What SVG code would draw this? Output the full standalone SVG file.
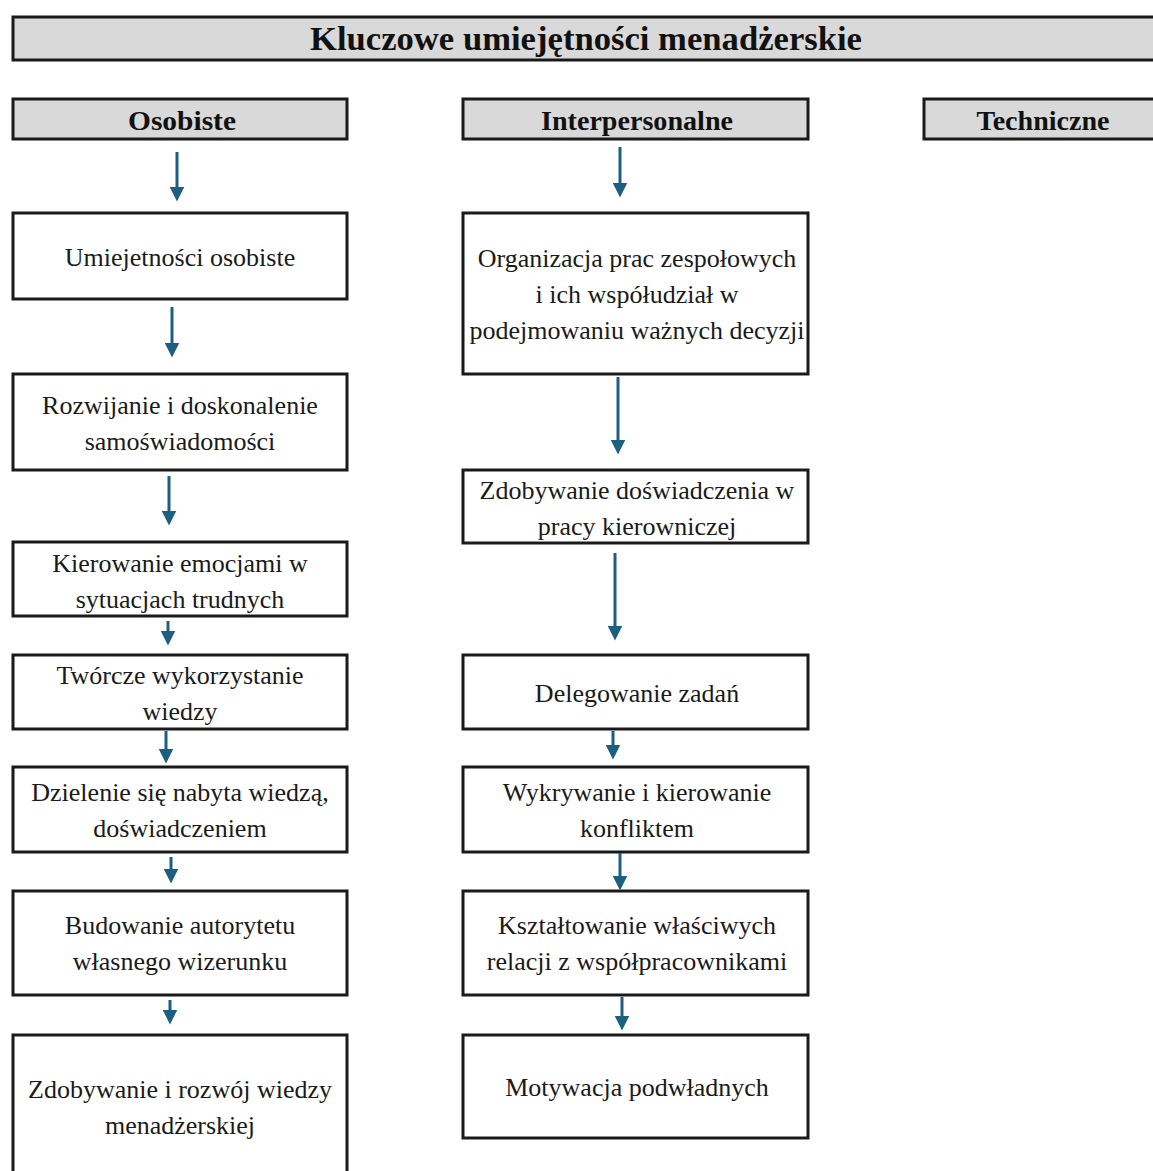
<svg xmlns="http://www.w3.org/2000/svg" width="1153" height="1171" viewBox="0 0 1153 1171">
  <style>
    .hdr { fill: #d9d9d9; stroke: #1a1a1a; stroke-width: 3; }
    .box { fill: #ffffff; stroke: #1a1a1a; stroke-width: 3; }
    .ttl { font-family: 'Liberation Serif', 'DejaVu Serif', serif; font-weight: bold; fill: #111; text-anchor: middle; }
    .txt { font-family: 'Liberation Serif', 'DejaVu Serif', serif; font-size: 26px; fill: #1a1a1a; text-anchor: middle; }
    .arr { stroke: #1d5f80; stroke-width: 3; fill: none; marker-end: url(#head); }
  </style>
  <defs>
    <marker id="head" markerWidth="5" markerHeight="5" refX="0.5" refY="2.5" orient="auto" markerUnits="strokeWidth" viewBox="0 0 5 5">
      <path d="M0,0 L5,2.5 L0,5 z" fill="#1d5f80"/>
    </marker>
  </defs>
  <rect width="1153" height="1171" fill="#ffffff"/>

  <!-- top banner -->
  <g id="n-root">
    <rect class="hdr" x="13" y="17" width="1150" height="43"/>
    <text class="ttl" x="586" y="50" font-size="33" textLength="552" lengthAdjust="spacingAndGlyphs">Kluczowe umiejętności menadżerskie</text>
  </g>

  <!-- category headers -->
  <g id="n-osobiste">
    <rect class="hdr" x="13" y="99" width="334" height="40"/>
    <text class="ttl" x="182" y="130" font-size="28" textLength="108" lengthAdjust="spacingAndGlyphs">Osobiste</text>
  </g>
  <g id="n-interpersonalne">
    <rect class="hdr" x="463" y="99" width="345" height="40"/>
    <text class="ttl" x="637" y="130" font-size="28" textLength="192" lengthAdjust="spacingAndGlyphs">Interpersonalne</text>
  </g>
  <g id="n-techniczne">
    <rect class="hdr" x="924" y="99" width="240" height="40"/>
    <text class="ttl" x="1043" y="130" font-size="28" textLength="133" lengthAdjust="spacingAndGlyphs">Techniczne</text>
  </g>

  <!-- left column -->
  <g id="n-l1">
    <rect class="box" x="13" y="213" width="334" height="86"/>
    <text class="txt" x="180" y="266">Umiejetności osobiste</text>
  </g>
  <g id="n-l2">
    <rect class="box" x="13" y="374" width="334" height="96"/>
    <text class="txt" x="180" y="414">Rozwijanie i doskonalenie</text>
    <text class="txt" x="180" y="450">samoświadomości</text>
  </g>
  <g id="n-l3">
    <rect class="box" x="13" y="542" width="334" height="74"/>
    <text class="txt" x="180" y="572">Kierowanie emocjami w</text>
    <text class="txt" x="180" y="608">sytuacjach trudnych</text>
  </g>
  <g id="n-l4">
    <rect class="box" x="13" y="655" width="334" height="74"/>
    <text class="txt" x="180" y="684">Twórcze wykorzystanie</text>
    <text class="txt" x="180" y="720">wiedzy</text>
  </g>
  <g id="n-l5">
    <rect class="box" x="13" y="767" width="334" height="85"/>
    <text class="txt" x="180" y="801">Dzielenie się nabyta wiedzą,</text>
    <text class="txt" x="180" y="837">doświadczeniem</text>
  </g>
  <g id="n-l6">
    <rect class="box" x="13" y="891" width="334" height="104"/>
    <text class="txt" x="180" y="934">Budowanie autorytetu</text>
    <text class="txt" x="180" y="970">własnego wizerunku</text>
  </g>
  <g id="n-l7">
    <rect class="box" x="13" y="1035" width="334" height="150"/>
    <text class="txt" x="180" y="1098">Zdobywanie i rozwój wiedzy</text>
    <text class="txt" x="180" y="1134">menadżerskiej</text>
  </g>

  <!-- right column -->
  <g id="n-r1">
    <rect class="box" x="463" y="213" width="345" height="161"/>
    <text class="txt" x="637" y="267">Organizacja prac zespołowych</text>
    <text class="txt" x="637" y="303">i ich współudział w</text>
    <text class="txt" x="637" y="339">podejmowaniu ważnych decyzji</text>
  </g>
  <g id="n-r2">
    <rect class="box" x="463" y="470" width="345" height="73"/>
    <text class="txt" x="637" y="499">Zdobywanie doświadczenia w</text>
    <text class="txt" x="637" y="535">pracy kierowniczej</text>
  </g>
  <g id="n-r3">
    <rect class="box" x="463" y="655" width="345" height="74"/>
    <text class="txt" x="637" y="702">Delegowanie zadań</text>
  </g>
  <g id="n-r4">
    <rect class="box" x="463" y="767" width="345" height="85"/>
    <text class="txt" x="637" y="801">Wykrywanie i kierowanie</text>
    <text class="txt" x="637" y="837">konfliktem</text>
  </g>
  <g id="n-r5">
    <rect class="box" x="463" y="891" width="345" height="104"/>
    <text class="txt" x="637" y="934">Kształtowanie właściwych</text>
    <text class="txt" x="637" y="970">relacji z współpracownikami</text>
  </g>
  <g id="n-r6">
    <rect class="box" x="463" y="1035" width="345" height="103"/>
    <text class="txt" x="637" y="1096">Motywacja podwładnych</text>
  </g>

  <!-- connectors -->
  <g id="connectors">
    <line class="arr" x1="177" y1="152" x2="177" y2="188"/>
    <line class="arr" x1="172" y1="307" x2="172" y2="344"/>
    <line class="arr" x1="169" y1="476" x2="169" y2="512"/>
    <line class="arr" x1="168" y1="621" x2="168" y2="632"/>
    <line class="arr" x1="166" y1="731" x2="166" y2="750"/>
    <line class="arr" x1="171" y1="857" x2="171" y2="870"/>
    <line class="arr" x1="170" y1="1000" x2="170" y2="1011"/>

    <line class="arr" x1="620" y1="147" x2="620" y2="184"/>
    <line class="arr" x1="618" y1="377" x2="618" y2="441"/>
    <line class="arr" x1="615" y1="553" x2="615" y2="627"/>
    <line class="arr" x1="613" y1="731" x2="613" y2="746"/>
    <line class="arr" x1="620" y1="853" x2="620" y2="877"/>
    <line class="arr" x1="622" y1="997" x2="622" y2="1017"/>
  </g>
</svg>
